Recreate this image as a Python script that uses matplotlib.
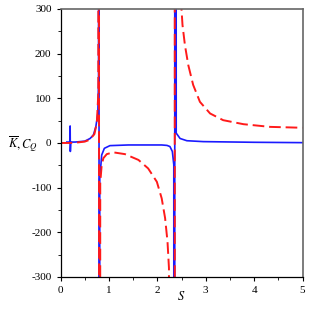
import numpy as np
import matplotlib
matplotlib.use("Agg")
import matplotlib.pyplot as plt

plt.rcParams['font.family'] = 'serif'
plt.rcParams['font.serif'] = ['Liberation Serif', 'DejaVu Serif']
plt.rcParams['mathtext.fontset'] = 'stix'
plt.rcParams['axes.unicode_minus'] = False

# values; +-1e4 mark the poles so the line runs off the axes
blue_s = [0.13, 0.19, 0.198, 0.202, 0.21, 0.3, 0.4, 0.5, 0.61, 0.68, 0.73, 0.77, 0.785, 0.794,
          0.796, 0.81, 0.85, 0.905, 1.02, 1.4, 2.09, 2.2, 2.26, 2.31, 2.34, 2.359,
          2.361, 2.39, 2.47, 2.61, 2.95, 4.0, 5.0]
blue_k = [2, 2, 38, -19, 2, 2, 3, 4, 10, 18, 37, 66, 140, 1e4,
          -1e4, -80, -27, -12, -6, -4.5, -4.5, -5.5, -8, -19, -49, -1e4,
          1e4, 22, 10, 5, 3, 1.5, 0.7]

red_s = [0.0, 0.2, 0.3, 0.5, 0.6, 0.7, 0.75, 0.78, 0.794,
         0.796, 0.82, 0.85, 0.885, 0.955, 1.09, 1.33, 1.61, 1.81, 1.99, 2.09, 2.16, 2.21, 2.24, 2.26,
         2.36, 2.36, 2.50, 2.52, 2.57, 2.64, 2.74, 2.88, 3.09, 3.36, 3.78, 4.33, 5.0]
red_c = [0, 0, 0.5, 3, 7, 20, 45, 110, 1e4,
         -1e4, -90, -49, -34, -25, -21, -25, -38, -57, -87, -124, -168, -221, -280, -1e4,
         -1e4, 1e4, 298, 264, 219, 174, 130, 92, 66, 51, 42, 36, 34]

fig = plt.figure(figsize=(3.09, 3.09), dpi=100)
ax = fig.add_axes([0.196, 0.1036, 0.783, 0.8675])

ax.plot(blue_s, blue_k, color='#1a1aff', lw=1.2)
ax.plot(red_s, red_c, color='#ff1a1a', lw=1.4, dashes=(6, 2.5))

ax.set_xlim(0, 5)
ax.set_ylim(-300, 300)
ax.set_xticks([0, 1, 2, 3, 4, 5])
ax.set_yticks([-300, -200, -100, 0, 100, 200, 300])
ax.set_xticks(np.arange(0, 5.01, 0.5), minor=True)
ax.set_yticks(np.arange(-300, 301, 50), minor=True)
ax.tick_params(labelsize=8, direction='out', length=3, width=0.8)
ax.tick_params(which='minor', direction='out', length=2, width=0.6)
ax.tick_params(top=False, right=False)

for side in ['top', 'right']:
    ax.spines[side].set_color('#666666')
    ax.spines[side].set_linewidth(1.2)
for side in ['left', 'bottom']:
    ax.spines[side].set_linewidth(0.9)

fig.text(0.075, 0.535, r'$\overline{K},C_Q$', fontsize=9, ha='center', va='center')
fig.text(0.586, 0.039, r'$S$', fontsize=9, ha='center', va='center')

fig.savefig('out.png', dpi=100)
